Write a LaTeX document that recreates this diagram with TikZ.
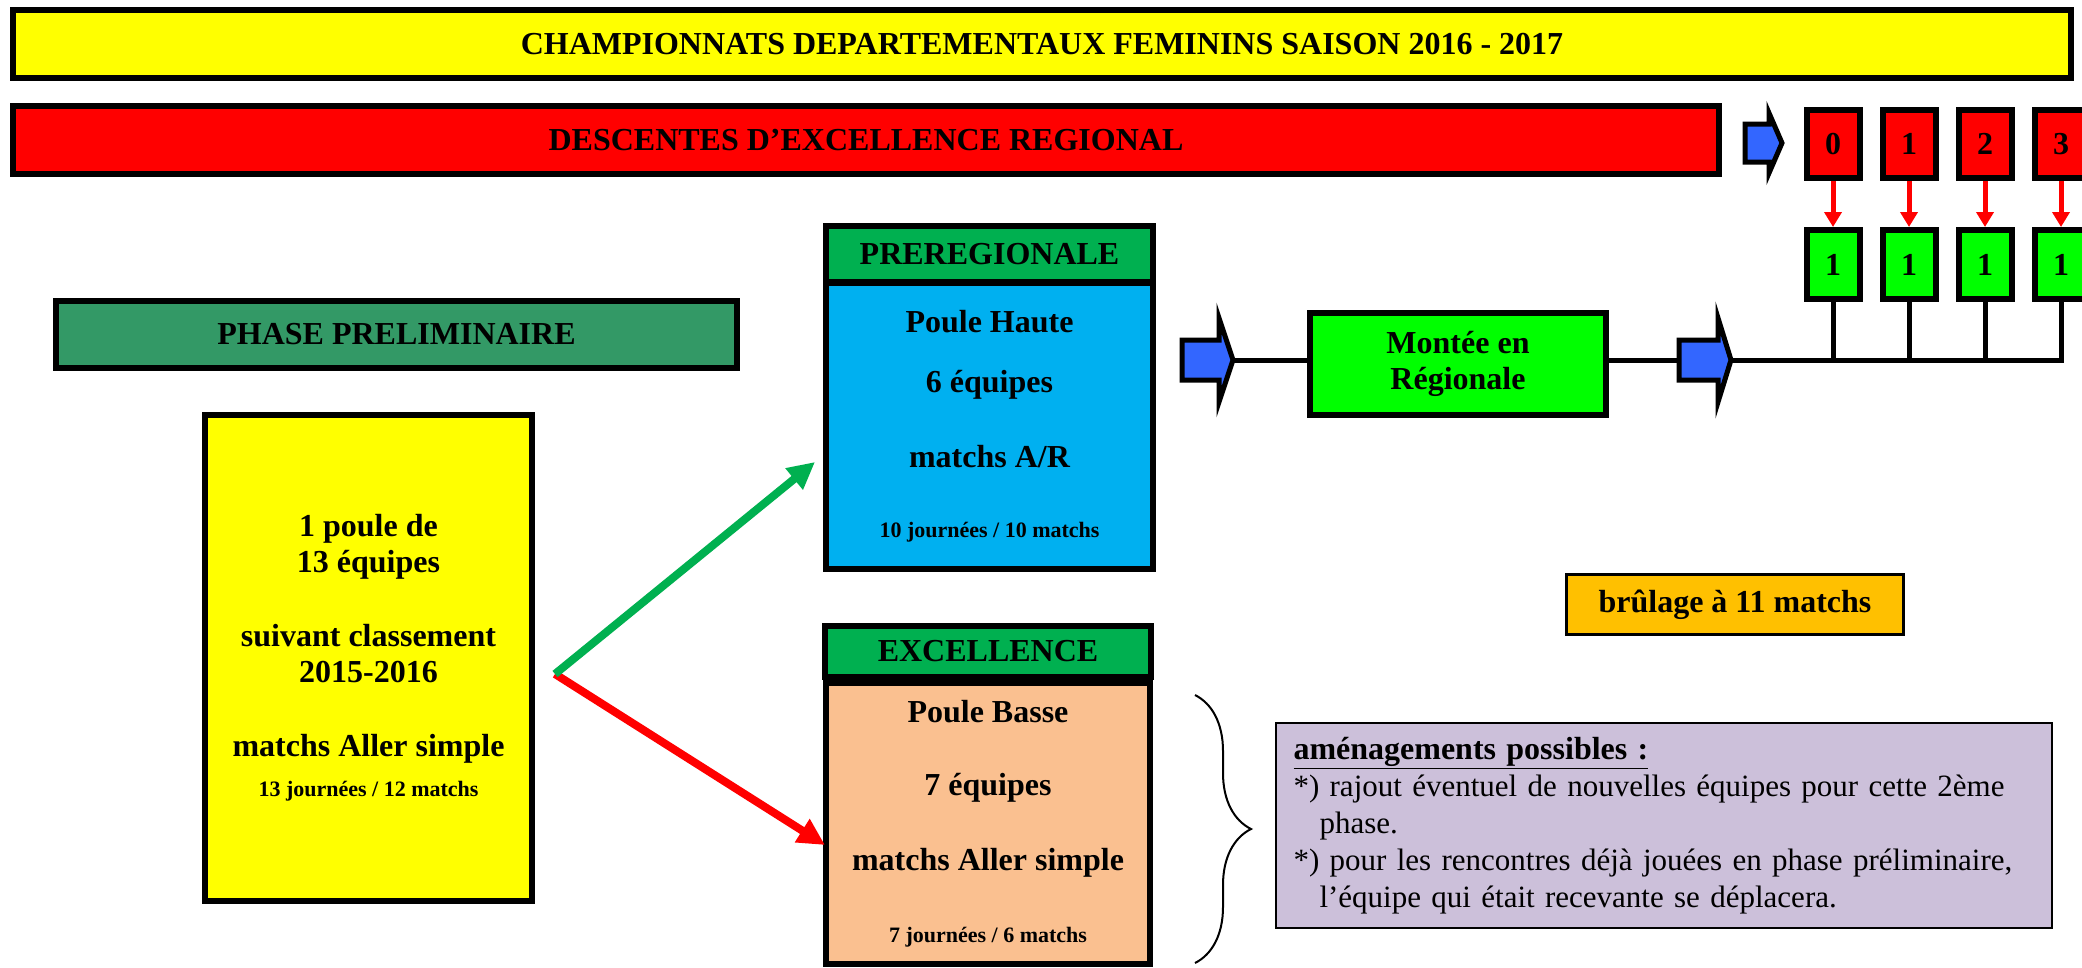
\documentclass[tikz,border=0pt]{standalone}
\usepackage{fontspec}
\setmainfont{Liberation Serif}
\usetikzlibrary{arrows.meta,decorations.pathreplacing}

\definecolor{jaune}{HTML}{FFFF00}
\definecolor{rouge}{HTML}{FF0000}
\definecolor{vertP}{HTML}{339966}
\definecolor{vertF}{HTML}{00B050}
\definecolor{vertC}{HTML}{00FF00}
\definecolor{bleuC}{HTML}{00B0F0}
\definecolor{bleuF}{HTML}{3366FF}
\definecolor{peche}{HTML}{FAC090}
\definecolor{orangeB}{HTML}{FFC000}
\definecolor{lilas}{HTML}{CCC0DA}

\newcommand\petit{\fontsize{22}{26}\selectfont}

\tikzset{
  cadre/.style={draw, line width=6pt, inner sep=0pt, align=center,
    font={\bfseries\fontsize{32}{36}\selectfont}},
  fleche/.style={draw=black, line width=5pt, fill=bleuF},
  trait/.style={line width=5pt, line cap=rect},
  flecheR/.style={rouge, line width=5pt, -{Triangle[length=15pt,width=17pt]}},
  grosse/.style={line width=8pt, -{Triangle[length=27pt,width=26pt]}}
}

\begin{document}
\begin{tikzpicture}[x=1pt,y=-1pt]
  \useasboundingbox (0,0) rectangle (2082,967);

      % bandeaux du haut
  \node[cadre, fill=jaune, minimum width=2058pt, minimum height=68pt](titre) at (1042,44)
        {CHAMPIONNATS DEPARTEMENTAUX FEMININS SAISON 2016 - 2017};
  \node[cadre, fill=rouge, minimum width=1706pt, minimum height=68pt](descente) at (866,140)
        {DESCENTES D’EXCELLENCE REGIONAL};

      % liaisons
  \coordinate (pointeB) at (1233,360);
  \coordinate (queueC) at (1679,360);
  \coordinate (pointeC) at (1731,360);

  \node[cadre, fill=vertC, minimum width=296pt, minimum height=102pt](montee) at (1458,364)
        {Montée en\\Régionale};
     \draw[trait](pointeB) to (montee.west |- pointeB);
     \draw[trait](montee.east |- queueC) to (queueC);

        \node[cadre, fill=rouge, minimum width=53pt, minimum height=68pt](r0) at (1833,144){0};
        \node[cadre, fill=rouge, minimum width=53pt, minimum height=68pt](r1) at (1909,144){1};
        \node[cadre, fill=rouge, minimum width=53pt, minimum height=68pt](r2) at (1985,144){2};
        \node[cadre, fill=rouge, minimum width=53pt, minimum height=68pt](r3) at (2061,144){3};

        \node[cadre, fill=vertC, minimum width=53pt, minimum height=69pt](v0) at (1833,264.5){1};
        \node[cadre, fill=vertC, minimum width=53pt, minimum height=69pt](v1) at (1909,264.5){1};
        \node[cadre, fill=vertC, minimum width=53pt, minimum height=69pt](v2) at (1985,264.5){1};
        \node[cadre, fill=vertC, minimum width=53pt, minimum height=69pt](v3) at (2061,264.5){1};

        \draw[flecheR](r0.south) to (v0.north);
        \draw[flecheR](r1.south) to (v1.north);
        \draw[flecheR](r2.south) to (v2.north);
        \draw[flecheR](r3.south) to (v3.north);

     \draw[trait](pointeC) to (pointeC -| v3.south);
        \draw[trait](v0.south) to (v0.south |- pointeC);
        \draw[trait](v1.south) to (v1.south |- pointeC);
        \draw[trait](v2.south) to (v2.south |- pointeC);
        \draw[trait](v3.south) to (v3.south |- pointeC);

      % fleches bleues
  \draw[fleche](1745,124) -- (1769,124) -- (1769,113) -- (1782,143) -- (1769,173) -- (1769,162) -- (1745,162) -- cycle;
  \draw[fleche](1182,340) -- (1219,340) -- (1219,318) -- (pointeB) -- (1219,402) -- (1219,380) -- (1182,380) -- cycle;
  \draw[fleche](queueC |- 0,340) -- (1718,340) -- (1718,318) -- (pointeC) -- (1718,402) -- (1718,380) -- (queueC |- 0,380) -- cycle;

      % phase preliminaire
  \node[cadre, fill=vertP, minimum width=681pt, minimum height=67pt](phase) at (396.5,334.5)
        {PHASE PRELIMINAIRE};
  \node[cadre, fill=jaune, minimum width=327pt, minimum height=486pt](poule) at (368.5,658)
        {1 poule de\\13 équipes\\[38pt]suivant classement\\2015-2016\\[38pt]matchs Aller simple\\[4pt]{\petit 13 journées / 12 matchs}};

      % deuxieme phase
  \node[cadre, fill=bleuC, minimum width=327pt, minimum height=286pt](haute) at (989.5,426)
        {Poule Haute\\[24pt]6 équipes\\[39pt]matchs A/R\\[34pt]{\petit 10 journées / 10 matchs}};
  \node[cadre, fill=vertF, minimum width=327pt, minimum height=56pt](prereg) at (989.5,254)
        {PREREGIONALE};

  \node[cadre, fill=peche, minimum width=324pt, minimum height=281pt](basse) at (988,823.5)
        {Poule Basse\\[37pt]7 équipes\\[39pt]matchs Aller simple\\[36pt]{\petit 7 journées / 6 matchs}};
  \node[cadre, fill=vertF, minimum width=326pt, minimum height=51pt](excel) at (988,651.5)
        {EXCELLENCE};

  \coordinate (depart) at (555,674);
  \coordinate (versH) at (815,462);
  \coordinate (versB) at (825,845);
     \draw[grosse, rouge](depart) to (versB);
     \draw[grosse, vertF](depart) to (versH);

      % notes
  \node[cadre, line width=3pt, fill=orangeB, minimum width=337pt, minimum height=60pt](brulage) at (1735,604.5)
        {brûlage à 11 matchs};

  \draw[line width=2pt, decorate, decoration={brace, amplitude=56pt}](1195,695) to (1195,963);

  \node[draw, line width=2pt, fill=lilas, font={\fontsize{31}{37}\selectfont}, text width=740pt,
        align=left, inner xsep=18pt, inner ysep=0pt, minimum height=205pt](amenag) at (1663.5,825.5)
        {{\fontsize{32}{37}\selectfont\underline{\textbf{aménagements possibles :}}}\\
         {*)} rajout éventuel de nouvelles équipes pour cette 2ème\\
         \hspace*{26pt}phase.\\
         {*)} pour les rencontres déjà jouées en phase préliminaire,\\
         \hspace*{26pt}l’équipe qui était recevante se déplacera.};

\end{tikzpicture}
\end{document}
